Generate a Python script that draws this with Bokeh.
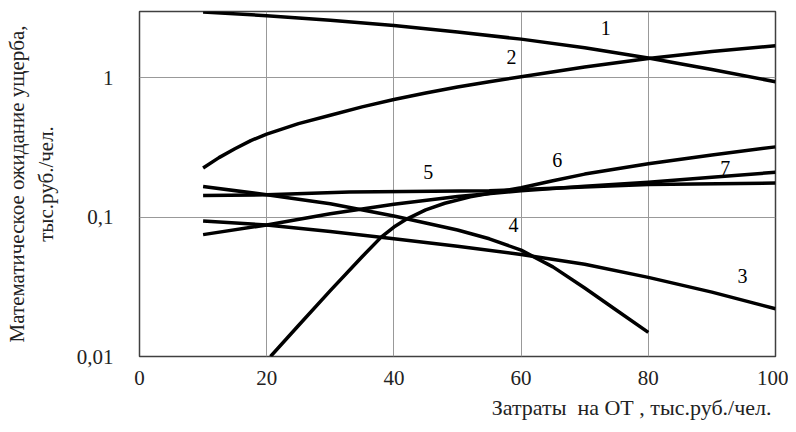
from bokeh.plotting import figure
from bokeh.models import FixedTicker, Title, ColumnDataSource
from bokeh.core.properties import value
from bokeh.embed import file_html
from bokeh.resources import INLINE

# ---- data ----
x1 = [10, 20, 30, 40, 50, 60, 70, 80, 90, 100]
y1 = [2.97, 2.80, 2.60, 2.38, 2.14, 1.90, 1.65, 1.39, 1.15, 0.94]

x2 = [10, 12.5, 15, 17.5, 20, 25, 30, 35, 40, 45, 50, 55, 60, 70, 80, 90, 100]
y2 = [0.226, 0.268, 0.31, 0.355, 0.395, 0.47, 0.54, 0.62, 0.70, 0.78, 0.86, 0.94, 1.02, 1.2, 1.38, 1.55, 1.70]

x3 = [10, 20, 30, 40, 50, 60, 70, 80, 90, 100]
y3 = [0.094, 0.088, 0.079, 0.070, 0.062, 0.054, 0.046, 0.037, 0.029, 0.022]

x4 = [10, 20, 30, 40, 45, 50, 55, 60, 65, 70, 75, 80]
y4 = [0.166, 0.145, 0.125, 0.102, 0.091, 0.081, 0.070, 0.058, 0.044, 0.031, 0.0215, 0.0149]

x5 = [10, 20, 33, 55, 70, 80, 100]
y5 = [0.143, 0.145, 0.152, 0.155, 0.165, 0.172, 0.176]

x6 = [20.6, 25, 30, 35, 38, 40, 42, 45, 48, 52, 56, 60, 65, 70, 80, 90, 100]
y6 = [0.01, 0.0167, 0.0297, 0.052, 0.072, 0.085, 0.097, 0.113, 0.126, 0.14, 0.151, 0.163, 0.183, 0.204, 0.242, 0.28, 0.32]

x7 = [10, 20, 30, 40, 50, 60, 70, 80, 90, 100]
y7 = [0.075, 0.088, 0.106, 0.124, 0.141, 0.155, 0.167, 0.178, 0.194, 0.21]

label_text = ["1", "2", "3", "4", "5", "6", "7"]
label_x = [73.3, 58.5, 94.8, 58.8, 45.4, 65.7, 92.1]
label_y = [2.28, 1.41, 0.038, 0.088, 0.21, 0.258, 0.226]

x_ticks = [0, 20, 40, 60, 80, 100]
y_ticks = [0.01, 0.1, 1]
y_tick_labels = ["0,01", "0,1", "1"]

FONT = "Liberation Serif"

p = figure(width=788, height=424, x_range=(0, 100), y_range=(0.01, 3.0),
           y_axis_type="log", output_backend="svg", toolbar_location=None,
           min_border_left=139, min_border_right=13, min_border_top=11,
           min_border_bottom=66)

p.background_fill_color = "white"
p.border_fill_color = "white"
p.outline_line_color = "#404040"
p.outline_line_width = 1.5

for xs, ys in [(x1, y1), (x2, y2), (x3, y3), (x4, y4), (x5, y5), (x6, y6), (x7, y7)]:
    p.line(xs, ys, line_color="black", line_width=3.5, line_join="round")

src = ColumnDataSource(dict(x=label_x, y=label_y, t=label_text))
p.text(x="x", y="y", text="t", source=src, text_font=value(FONT),
       text_font_size="20px", text_align="center", text_baseline="middle",
       text_color="black")

p.xaxis.ticker = FixedTicker(ticks=x_ticks)
p.yaxis.ticker = FixedTicker(ticks=y_ticks, minor_ticks=[])
p.yaxis.major_label_overrides = {t: l for t, l in zip(y_ticks, y_tick_labels)}

for ax in (p.xaxis, p.yaxis):
    ax.axis_line_color = None
    ax.major_tick_line_color = None
    ax.minor_tick_line_color = None
    ax.major_label_text_font = FONT
    ax.major_label_text_font_size = "21px"
    ax.major_label_text_color = "#222222"

p.xaxis.major_label_standoff = 8
p.yaxis.major_label_standoff = 20

p.yaxis.axis_label = "Математическое ожидание ущерба,\nтыс.руб./чел."
p.yaxis.axis_label_text_font = FONT
p.yaxis.axis_label_text_font_style = "normal"
p.yaxis.axis_label_text_font_size = "21px"
p.yaxis.axis_label_text_color = "#222222"
p.yaxis.axis_label_standoff = 16

p.xgrid.grid_line_color = "#999999"
p.ygrid.grid_line_color = "#999999"
p.xgrid.grid_line_width = 1
p.ygrid.grid_line_width = 1
p.ygrid.minor_grid_line_color = None

p.add_layout(Title(text="Затраты\u00a0\u00a0на ОТ , тыс.руб./чел.", align="right",
                   text_font=FONT, text_font_style="normal",
                   text_font_size="22px", text_color="#222222", offset=4),
             "below")

open("out.html", "w").write(file_html(p, INLINE))
